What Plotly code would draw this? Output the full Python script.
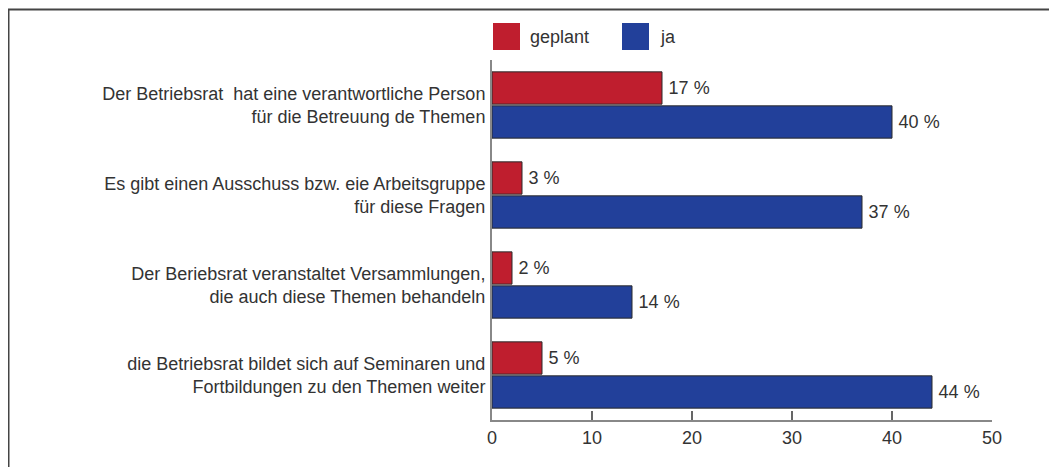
import plotly.graph_objects as go

categories = [
    "Der Betriebsrat  hat eine verantwortliche Person<br>für die Betreuung de Themen",
    "Es gibt einen Ausschuss bzw. eie Arbeitsgruppe<br>für diese Fragen",
    "Der Beriebsrat veranstaltet Versammlungen,<br>die auch diese Themen behandeln",
    "die Betriebsrat bildet sich auf Seminaren und<br>Fortbildungen zu den Themen weiter",
]
geplant = [17, 3, 2, 5]
ja = [40, 37, 14, 44]
series_names = ["geplant", "ja"]
colors = ["#BF1E2E", "#22409A"]
x_ticks = [0, 10, 20, 30, 40, 50]

# page body has an 8px margin; coordinates below are in screen pixels
OFF = 8
W, H = 1057, 467
PL, PR, PT, PB = 492, 992, 60, 420  # plot area in screen pixels
L = PL - OFF
T = PT - OFF
R = W - (PR - OFF)
B = H - (PB - OFF)
pw, ph = W - L - R, H - T - B


def px(x):
    return (x - OFF - L) / pw


def py(y):
    return (H - B - (y - OFF)) / ph


FONT = "Liberation Sans, Arial, sans-serif"
TXT = "#333333"
FS = 18

fig = go.Figure()
for name, vals, col in zip(series_names, [geplant, ja], colors):
    fig.add_trace(go.Bar(
        y=categories, x=vals, name=name, orientation="h",
        marker=dict(color=col, line=dict(color="#2a2a2a", width=1)),
        texttemplate="\u2009%{x} %", textposition="outside", cliponaxis=False,
        textfont=dict(family=FONT, size=FS, color=TXT),
        showlegend=False,
    ))

shapes = [
    dict(type="rect", xref="paper", yref="paper",
         x0=px(8.5), x1=px(1090), y0=py(9.5), y1=py(500),
         line=dict(color="#444444", width=2), fillcolor="rgba(0,0,0,0)", layer="below"),
]
annotations = []
legend_pos = [(493, 528), (622, 658)]
for (sx, tx), name, col in zip(legend_pos, series_names, colors):
    shapes.append(dict(type="rect", xref="paper", yref="paper",
                       x0=px(sx), x1=px(sx + 27), y0=py(50), y1=py(23),
                       fillcolor=col, line=dict(width=0)))
    annotations.append(dict(xref="paper", yref="paper", x=px(tx), y=py(37),
                            text=name, showarrow=False, xanchor="left", yanchor="middle",
                            font=dict(family=FONT, size=FS, color=TXT)))

fig.update_layout(
    width=W, height=H,
    margin=dict(l=L, r=R, t=T, b=B, pad=0),
    paper_bgcolor="white", plot_bgcolor="white",
    barmode="group", bargap=0.245, bargroupgap=0.05,
    shapes=shapes, annotations=annotations,
    font=dict(family=FONT, size=FS, color=TXT),
    xaxis=dict(range=[0, 50], tickvals=x_ticks, ticks="inside", ticklen=9,
               tickcolor="#666666", tickwidth=1.5, showline=True, linecolor="#888888",
               linewidth=2, showgrid=False, zeroline=False,
               tickfont=dict(family=FONT, size=FS, color=TXT)),
    yaxis=dict(autorange="reversed", showline=True, linecolor="#888888", linewidth=2,
               ticks="", showgrid=False, ticklabelstandoff=1,
               tickfont=dict(family=FONT, size=FS, color=TXT)),
)

fig.write_html("out.html")
